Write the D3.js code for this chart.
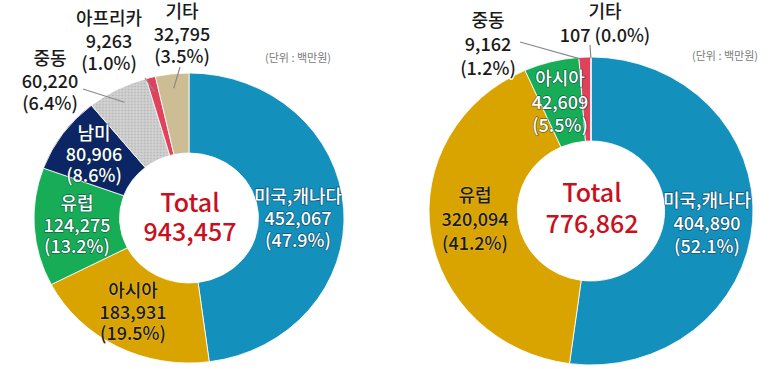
<!DOCTYPE html>
<html><head><meta charset="utf-8">
<script src="https://cdn.jsdelivr.net/npm/d3@7"></script>
<style>
html,body{margin:0;padding:0;background:#fff;}
svg{display:block;font-family:"Noto Sans CJK KR","Noto Sans",sans-serif;}
</style></head>
<body>
<svg id="chart" width="776" height="369"></svg>
<script>
// ---- data ----
const leftCategories = ["미국,캐나다","아시아","유럽","남미","중동","아프리카","기타"];
const leftValues = [452067,183931,124275,80906,60220,9263,32795];
const leftPercents = ["47.9%","19.5%","13.2%","8.6%","6.4%","1.0%","3.5%"];
const leftTotal = "943,457";

const rightCategories = ["미국,캐나다","유럽","아시아","중동","기타"];
const rightValues = [404890,320094,42609,9162,107];
const rightPercents = ["52.1%","41.2%","5.5%","1.2%","0.0%"];
const rightTotal = "776,862";

const unitLabel = "(단위 : 백만원)";
const totalLabel = "Total";

// ---- styles / layout ----
const colorMap = {
  "미국,캐나다":"#1490bd","아시아":"#d9a300","유럽":"#17ad56","남미":"#0c2564",
  "중동":"url(#dots)","아프리카":"#e0425c","기타":"#cdbd95"
};
const rightColorMap = {"미국,캐나다":"#1490bd","유럽":"#d9a300","아시아":"#17ad56","중동":"#e0425c","기타":"#cdbd95"};

const svg = d3.select("#chart");
const defs = svg.append("defs");
const pat = defs.append("pattern").attr("id","dots").attr("patternUnits","userSpaceOnUse")
  .attr("width",3).attr("height",3);
pat.append("rect").attr("width",3).attr("height",3).attr("fill","#cbcbcb");
pat.append("rect").attr("x",0).attr("y",0).attr("width",1).attr("height",1).attr("fill","#b5b5b5");
pat.append("rect").attr("x",1.5).attr("y",1.5).attr("width",1).attr("height",1).attr("fill","#dedede");

const fmt = d3.format(",");

function drawDonut(cfg){
  const sx = cfg.rx/cfg.ry;
  const pie = d3.pie().sort(null).value(d=>d.value);
  const data = cfg.cats.map((c,i)=>({cat:c,value:cfg.values[i],pct:cfg.pcts[i],i}));
  const arcs = pie(data);
  const arc = d3.arc().innerRadius(cfg.iry).outerRadius(cfg.ry);
  const g = svg.append("g").attr("transform",`translate(${cfg.cx},${cfg.cy}) scale(${sx},1)`);
  g.selectAll("path").data(arcs).join("path")
    .attr("d",arc)
    .attr("fill",d=>cfg.colors[d.data.cat])
    .attr("stroke","#fff").attr("stroke-width",0.8);

  // clip for inner labels
  const clipId = "clip"+cfg.id;
  defs.append("clipPath").attr("id",clipId).append("path")
    .attr("transform",`translate(${cfg.cx},${cfg.cy}) scale(${sx},1)`)
    .attr("d", d3.arc().innerRadius(cfg.iry).outerRadius(cfg.ry)({startAngle:0,endAngle:2*Math.PI}));

  // total
  const tg = svg.append("g");
  [[totalLabel,cfg.total.y1],[cfg.totalText,cfg.total.y2]].forEach(([t,y])=>{
    tg.append("text").attr("x",cfg.total.x).attr("y",y).attr("text-anchor","middle")
      .attr("font-size",cfg.total.size).attr("font-weight",500).attr("fill","#c8101e")
      .attr("stroke","#fff").attr("stroke-width",2).attr("paint-order","stroke")
      .text(t);
  });

  // labels
  arcs.forEach(a=>{
    const L = cfg.labels[a.data.i];
    const lines = L.lines ? L.lines(a.data) : [a.data.cat, fmt(a.data.value), `(${a.data.pct})`];
    if(L.leader){
      const frac = L.frac==null?0.5:L.frac;
      const ang = a.startAngle + (a.endAngle-a.startAngle)*frac;
      const k = L.k||0.9;
      const ex = cfg.cx + cfg.rx*k*Math.sin(ang);
      const ey = cfg.cy - cfg.ry*k*Math.cos(ang);
      svg.append("line").attr("x1",L.leader[0]).attr("y1",L.leader[1])
        .attr("x2",ex).attr("y2",ey).attr("stroke","#8a8a8a").attr("stroke-width",1.2);
    }
    const lg = svg.append("g");
    if(L.clip) lg.attr("clip-path",`url(#${clipId})`);
    let fill="#1a1a1a", stroke="#fff", sw=3, so=1;
    if(L.style==="white"){fill="#fff";stroke="#0b2a3a";sw=1.6;so=0.55;}
    if(L.style==="ondark"){fill="#1a1a1a";stroke="#f0d070";sw=1.2;so=0.5;}
    lines.forEach((t,j)=>{
      lg.append("text").attr("x",L.x).attr("y",L.y+j*L.lh).attr("text-anchor","middle")
        .attr("font-size",cfg.fontSize).attr("font-weight",500).attr("fill",fill)
        .attr("stroke",stroke).attr("stroke-width",sw).attr("stroke-opacity",so)
        .attr("stroke-linejoin","round").attr("paint-order","stroke")
        .text(t);
    });
  });

  svg.append("text").attr("x",cfg.unit.x).attr("y",cfg.unit.y).attr("text-anchor","middle")
    .attr("font-size",11).attr("fill","#7a7a7a").text(unitLabel);
}

drawDonut({
  id:"L", cx:189, cy:218, rx:155, ry:145, iry:65, fontSize:18,
  cats:leftCategories, values:leftValues, pcts:leftPercents, colors:colorMap,
  totalText:leftTotal, total:{x:190,y1:212,y2:241,size:25},
  unit:{x:298,y:62},
  labels:[
    {x:298,y:203,lh:22,style:"white",clip:true},
    {x:133,y:297,lh:21.5,style:"ondark"},
    {x:77,y:210,lh:21.5,style:"white"},
    {x:94,y:140,lh:21,style:"white"},
    {x:50,y:65,lh:22.5,leader:[83,89]},
    {x:109,y:25,lh:22.5,leader:[145,78]},
    {x:182,y:18,lh:22.5,leader:[180,67]}
  ]
});

drawDonut({
  id:"R", cx:591, cy:211, rx:162, ry:154, iry:70, fontSize:18,
  cats:rightCategories, values:rightValues, pcts:rightPercents, colors:rightColorMap,
  totalText:rightTotal, total:{x:592,y1:202,y2:233,size:25},
  unit:{x:725,y:60},
  labels:[
    {x:707,y:207,lh:23,style:"white",clip:true},
    {x:475,y:202,lh:24,style:"ondark"},
    {x:560,y:85,lh:23.5,style:"white",clip:true},
    {x:488,y:27,lh:24,leader:[520,42],frac:0.1,k:0.99},
    {x:605,y:18,lh:24,leader:[590,45],k:0.99,lines:d=>[d.cat, `${fmt(d.value)} (${d.pct})`]}
  ]
});
</script>
</body></html>
